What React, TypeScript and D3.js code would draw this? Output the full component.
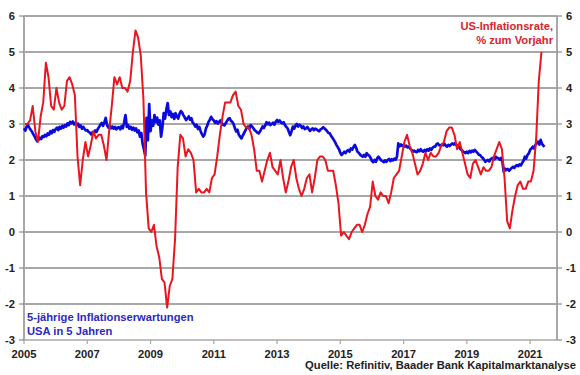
import React from "react";
import * as d3 from "d3";

// US CPI, % yoy, monthly from Jan 2005 to May 2021
const cpiStartYear = 2005;
const cpiValues: number[] = [
  // 2005
  3.0, 3.0, 3.1, 3.5, 2.8, 2.5, 3.2, 3.6, 4.7, 4.3, 3.5, 3.4,
  // 2006
  4.0, 3.6, 3.4, 3.5, 4.2, 4.3, 4.1, 3.8, 2.1, 1.3, 2.0, 2.5,
  // 2007
  2.1, 2.4, 2.8, 2.6, 2.7, 2.7, 2.4, 2.0, 2.8, 3.5, 4.3, 4.1,
  // 2008
  4.3, 4.0, 4.0, 3.9, 4.2, 5.0, 5.6, 5.4, 4.9, 3.7, 1.1, 0.1,
  // 2009
  0.0, 0.2, -0.4, -0.7, -1.3, -1.4, -2.1, -1.5, -1.3, -0.2, 1.8, 2.7,
  // 2010
  2.6, 2.1, 2.3, 2.2, 2.0, 1.1, 1.2, 1.1, 1.1, 1.2, 1.1, 1.5,
  // 2011
  1.6, 2.1, 2.7, 3.2, 3.6, 3.6, 3.6, 3.8, 3.9, 3.5, 3.4, 3.0,
  // 2012
  2.9, 2.9, 2.7, 2.3, 1.7, 1.7, 1.4, 1.7, 2.0, 2.2, 1.8, 1.7,
  // 2013
  1.6, 2.0, 1.5, 1.1, 1.4, 1.8, 2.0, 1.5, 1.2, 1.0, 1.2, 1.5,
  // 2014
  1.6, 1.1, 1.5, 2.0, 2.1, 2.1, 2.0, 1.7, 1.7, 1.7, 1.3, 0.8,
  // 2015
  -0.1, 0.0, -0.1, -0.2, 0.0, 0.1, 0.2, 0.2, 0.0, 0.2, 0.5, 0.7,
  // 2016
  1.4, 1.0, 0.9, 1.1, 1.0, 1.0, 0.8, 1.1, 1.5, 1.6, 1.7, 2.1,
  // 2017
  2.5, 2.7, 2.4, 2.2, 1.9, 1.6, 1.7, 1.9, 2.2, 2.0, 2.2, 2.1,
  // 2018
  2.1, 2.2, 2.4, 2.5, 2.8, 2.9, 2.9, 2.7, 2.3, 2.5, 2.2, 1.9,
  // 2019
  1.6, 1.5, 1.9, 2.0, 1.8, 1.6, 1.8, 1.7, 1.7, 1.8, 2.1, 2.3,
  // 2020
  2.5, 2.3, 1.5, 0.3, 0.1, 0.6, 1.0, 1.3, 1.4, 1.2, 1.2, 1.4,
  // 2021
  1.4, 1.7, 2.6, 4.2, 5.0,
];

// 5y5y inflation expectations, semi-monthly readings from Jan 2005 to Jun 2021
const expStartYear = 2005;
const expValues: number[] = [
  // 2005
  2.88, 2.82, 2.93, 2.97, 2.90, 2.84, 2.79, 2.72, 2.66, 2.58, 2.52, 2.56,
  2.62, 2.58, 2.66, 2.64, 2.70, 2.66, 2.74, 2.70, 2.80, 2.74, 2.83, 2.78,
  // 2006
  2.86, 2.90, 2.83, 2.92, 2.87, 2.95, 2.90, 2.97, 2.93, 3.02, 2.97, 3.06,
  3.02, 3.07, 2.99, 3.04, 2.96, 3.01, 2.92, 2.96, 2.87, 2.92, 2.86, 2.82,
  // 2007
  2.83, 2.78, 2.76, 2.71, 2.77, 2.73, 2.82, 2.78, 2.86, 2.92, 2.98, 3.03,
  2.95, 3.05, 3.17, 2.97, 2.90, 2.95, 2.88, 2.93, 2.87, 2.92, 2.85, 2.90,
  // 2008
  2.91, 2.85, 2.94, 2.88, 3.05, 3.25, 2.92, 2.97, 2.87, 2.92, 2.84, 2.90,
  2.82, 2.88, 2.77, 2.82, 2.65, 2.75, 2.45, 2.30, 2.12, 3.17, 2.55, 3.55,
  // 2009
  2.80, 3.10, 2.95, 3.25, 3.05, 3.18, 2.98, 3.10, 2.65, 2.90, 3.30, 3.15,
  3.40, 3.58, 3.25, 3.35, 3.19, 3.28, 3.14, 3.30, 3.21, 3.15, 3.28, 3.36,
  // 2010
  3.32, 3.24, 3.18, 3.11, 3.16, 3.21, 3.12, 3.16, 3.04, 3.00, 2.93, 2.98,
  2.86, 2.92, 2.80, 2.72, 2.65, 2.71, 2.87, 2.95, 3.06, 3.12, 3.20, 3.13,
  // 2011
  3.10, 3.03, 3.08, 3.01, 3.06, 3.10, 3.03, 2.98, 2.96, 3.02, 3.08, 3.14,
  3.16, 3.09, 3.06, 3.00, 2.88, 2.79, 2.84, 2.70, 2.65, 2.60, 2.68, 2.75,
  // 2012
  2.82, 2.90, 2.93, 2.87, 2.97, 2.93, 2.88, 2.83, 2.80, 2.76, 2.74, 2.79,
  2.86, 2.93, 2.89, 2.96, 3.05, 2.99, 3.04, 2.97, 3.00, 3.04, 2.98, 3.06,
  // 2013
  3.11, 3.06, 3.10, 3.04, 3.02, 3.05, 2.97, 2.92, 2.88, 2.78, 2.69, 2.80,
  2.93, 2.87, 2.96, 3.00, 2.93, 2.98, 2.95, 2.89, 2.93, 2.86, 2.88, 2.92,
  // 2014
  2.86, 2.81, 2.85, 2.88, 2.83, 2.87, 2.85, 2.82, 2.80, 2.85, 2.87, 2.91,
  2.88, 2.84, 2.80, 2.75, 2.74, 2.67, 2.62, 2.56, 2.50, 2.42, 2.36, 2.30,
  // 2015
  2.20, 2.14, 2.18, 2.23, 2.19, 2.25, 2.28, 2.23, 2.32, 2.29, 2.36, 2.42,
  2.34, 2.23, 2.20, 2.15, 2.12, 2.09, 2.14, 2.09, 2.19, 2.14, 2.12, 2.06,
  // 2016
  1.97, 1.94, 2.00, 1.95, 2.05, 2.09, 2.04, 1.99, 1.97, 1.94, 1.99, 1.95,
  2.00, 2.03, 1.97, 2.02, 1.99, 2.04, 2.01, 2.10, 2.46, 2.38, 2.43, 2.39,
  // 2017
  2.42, 2.37, 2.40, 2.35, 2.37, 2.32, 2.28, 2.23, 2.26, 2.23, 2.22, 2.28,
  2.24, 2.30, 2.25, 2.23, 2.28, 2.24, 2.30, 2.26, 2.32, 2.28, 2.34, 2.37,
  // 2018
  2.37, 2.44, 2.46, 2.41, 2.40, 2.43, 2.41, 2.45, 2.40, 2.37, 2.42, 2.39,
  2.43, 2.46, 2.43, 2.47, 2.42, 2.39, 2.36, 2.31, 2.28, 2.24, 2.22, 2.19,
  // 2019
  2.23, 2.19, 2.25, 2.21, 2.26, 2.23, 2.28, 2.24, 2.20, 2.15, 2.14, 2.09,
  2.06, 2.01, 1.95, 1.98, 2.00, 1.96, 2.02, 2.05, 2.06, 2.02, 2.09, 2.06,
  // 2020
  2.05, 2.01, 2.06, 1.95, 1.67, 1.76, 1.72, 1.75, 1.70, 1.74, 1.78, 1.81,
  1.78, 1.83, 1.86, 1.83, 1.88, 1.85, 1.92, 1.98, 2.09, 2.04, 2.14, 2.18,
  // 2021
  2.28, 2.32, 2.37, 2.32, 2.42, 2.46, 2.51, 2.43, 2.56, 2.45, 2.40, 2.37,
];

const yTicks = [-3, -2, -1, 0, 1, 2, 3, 4, 5, 6];
const xTickYears = [2005, 2007, 2009, 2011, 2013, 2015, 2017, 2019, 2021];

const redLegend = ["US-Inflationsrate,", "% zum Vorjahr"];
const blueLegend = ["5-jährige Inflationserwartungen", "USA in 5 Jahren"];
const sourceText = "Quelle: Refinitiv, Baader Bank Kapitalmarktanalyse";

const W = 580;
const H = 375;
const left = 24;
const right = 557;
const top = 16;
const bottom = 340;

export default function App() {
  const x = d3.scaleLinear().domain([2005, 2021.85]).range([left, right]);
  const y = d3.scaleLinear().domain([-3, 6]).range([bottom, top]);

  const cpiPts = cpiValues.map((v, i) => ({ t: cpiStartYear + (i + 0.3) / 12, v }));
  const expPts = expValues.map((v, i) => ({ t: expStartYear + i / 24, v }));

  const line = d3
    .line<{ t: number; v: number }>()
    .x((d) => x(d.t))
    .y((d) => y(d.v));

  const font = "'Liberation Sans', Arial, sans-serif";
  const fs = 11.2;

  return (
    <svg
      width={W}
      height={H}
      style={{ position: "absolute", left: 0, top: 0, background: "#fff" }}
      fontFamily={font}
    >
      <rect x={0} y={0} width={W} height={H} fill="#fff" />
      {/* gridlines */}
      {yTicks
        .filter((t) => t > -3)
        .map((t) => (
          <line key={"g" + t} x1={left} x2={right} y1={y(t)} y2={y(t)} stroke="#505050" strokeWidth={1} />
        ))}
      {/* bottom axis */}
      <line x1={left} x2={right} y1={bottom} y2={bottom} stroke="#a8a8a8" strokeWidth={1.5} />
      {xTickYears.map((yr) => (
        <line key={"xt" + yr} x1={x(yr)} x2={x(yr)} y1={bottom} y2={bottom + 4} stroke="#a8a8a8" strokeWidth={1.2} />
      ))}
      {/* left & right axes */}
      <line x1={left} x2={left} y1={top} y2={bottom} stroke="#a8a8a8" strokeWidth={2} />
      <line x1={right} x2={right} y1={top} y2={bottom} stroke="#a8a8a8" strokeWidth={2} />
      {yTicks.map((t) => (
        <g key={"yt" + t}>
          <line x1={left - 5} x2={left} y1={y(t)} y2={y(t)} stroke="#777" strokeWidth={1} />
          <line x1={right} x2={right + 5} y1={y(t)} y2={y(t)} stroke="#777" strokeWidth={1} />
          <text x={15} y={y(t)} dy="0.36em" textAnchor="end" fontSize={fs} fontWeight="bold" fill="#222">
            {t}
          </text>
          <text x={566} y={y(t)} dy="0.36em" textAnchor="start" fontSize={fs} fontWeight="bold" fill="#222">
            {t}
          </text>
        </g>
      ))}
      {xTickYears.map((yr) => (
        <text key={"xl" + yr} x={x(yr)} y={358} textAnchor="middle" fontSize={fs} fontWeight="bold" fill="#222">
          {yr}
        </text>
      ))}
      <text x={576} y={369} textAnchor="end" fontSize={fs} fontWeight="bold" fill="#222">
        {sourceText}
      </text>

      {/* series */}
      <path d={line(expPts) || ""} fill="none" stroke="#0a0adc" strokeWidth={2.7} strokeLinejoin="round" />
      <path d={line(cpiPts) || ""} fill="none" stroke="#e8161e" strokeWidth={2} strokeLinejoin="round" />

      {/* legends */}
      {redLegend.map((s, i) => (
        <text key={"rl" + i} x={553} y={30 + i * 14} textAnchor="end" fontSize={fs} fontWeight="bold" fill="#d8242c">
          {s}
        </text>
      ))}
      {blueLegend.map((s, i) => (
        <text key={"bl" + i} x={27} y={321 + i * 14} textAnchor="start" fontSize={fs} fontWeight="bold" fill="#2a2ac0">
          {s}
        </text>
      ))}
    </svg>
  );
}
